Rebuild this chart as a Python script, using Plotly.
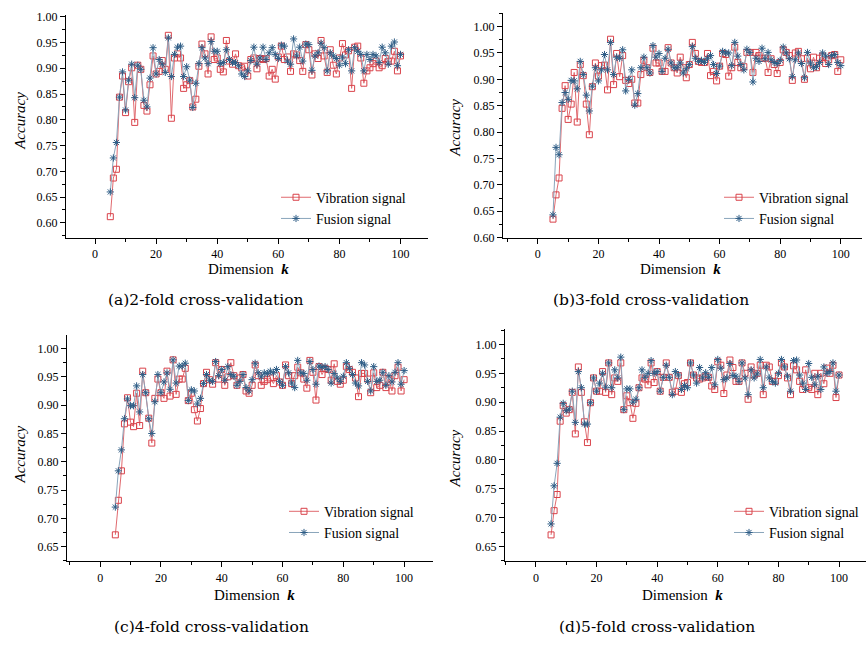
import plotly.graph_objects as go

k = list(range(5, 101))

a_vib = [0.612,0.687,0.704,0.844,0.885,0.814,0.874,0.901,0.795,0.906,0.898,0.828,0.817,0.868,0.924,0.889,
         0.894,0.915,0.898,0.964,0.803,0.920,0.928,0.920,0.861,0.868,0.876,0.825,0.840,0.904,0.947,0.928,
         0.889,0.961,0.917,0.920,0.898,0.893,0.954,0.914,0.908,0.928,0.905,0.901,0.904,0.885,0.917,0.920,
         0.899,0.919,0.917,0.919,0.885,0.898,0.879,0.922,0.943,0.917,0.922,0.894,0.928,0.926,0.915,0.894,
         0.946,0.936,0.887,0.928,0.919,0.954,0.924,0.892,0.936,0.906,0.889,0.920,0.948,0.926,0.934,0.861,
         0.941,0.943,0.920,0.871,0.895,0.901,0.909,0.914,0.901,0.905,0.919,0.913,0.914,0.933,0.895,0.924]
a_fus = [0.660,0.726,0.756,0.844,0.893,0.819,0.877,0.908,0.843,0.906,0.898,0.838,0.825,0.881,0.940,0.889,
         0.917,0.908,0.892,0.959,0.884,0.927,0.941,0.943,0.884,0.903,0.877,0.824,0.871,0.909,0.940,0.920,
         0.909,0.952,0.933,0.933,0.909,0.911,0.936,0.917,0.911,0.911,0.905,0.889,0.884,0.895,0.915,0.941,
         0.908,0.920,0.941,0.917,0.930,0.940,0.927,0.919,0.945,0.943,0.914,0.908,0.957,0.924,0.941,0.914,
         0.947,0.946,0.896,0.924,0.930,0.949,0.940,0.895,0.930,0.924,0.919,0.906,0.922,0.909,0.936,0.895,
         0.940,0.933,0.927,0.895,0.927,0.917,0.927,0.924,0.911,0.941,0.930,0.908,0.943,0.951,0.905,0.927]

b_vib = [0.635,0.681,0.713,0.845,0.888,0.824,0.853,0.913,0.819,0.928,0.907,0.853,0.795,0.886,0.931,0.906,
         0.926,0.927,0.880,0.976,0.890,0.949,0.905,0.945,0.898,0.892,0.900,0.855,0.855,0.909,0.936,0.922,
         0.913,0.959,0.931,0.931,0.915,0.915,0.960,0.931,0.922,0.912,0.942,0.922,0.903,0.928,0.970,0.949,
         0.934,0.932,0.932,0.949,0.907,0.915,0.897,0.925,0.949,0.947,0.906,0.922,0.961,0.932,0.922,0.924,
         0.951,0.951,0.913,0.951,0.945,0.940,0.940,0.913,0.939,0.928,0.911,0.932,0.956,0.951,0.945,0.898,
         0.950,0.953,0.939,0.900,0.940,0.920,0.942,0.922,0.940,0.944,0.930,0.937,0.945,0.947,0.915,0.937]
b_fus = [0.643,0.771,0.757,0.856,0.875,0.862,0.898,0.897,0.882,0.934,0.909,0.870,0.840,0.887,0.922,0.897,
         0.918,0.947,0.918,0.970,0.909,0.942,0.940,0.956,0.878,0.900,0.918,0.851,0.873,0.922,0.942,0.922,
         0.912,0.964,0.942,0.949,0.915,0.940,0.957,0.931,0.922,0.922,0.931,0.912,0.920,0.928,0.962,0.940,
         0.934,0.936,0.932,0.940,0.945,0.928,0.911,0.925,0.953,0.950,0.950,0.926,0.970,0.944,0.928,0.918,
         0.957,0.951,0.895,0.940,0.934,0.959,0.939,0.951,0.937,0.932,0.930,0.936,0.961,0.950,0.939,0.905,
         0.937,0.950,0.930,0.903,0.951,0.931,0.922,0.924,0.932,0.950,0.944,0.928,0.945,0.947,0.932,0.926]

c_vib = [0.671,0.732,0.784,0.867,0.913,0.870,0.862,0.921,0.864,0.960,0.922,0.877,0.833,0.912,0.946,0.922,
         0.912,0.960,0.916,0.980,0.919,0.946,0.946,0.965,0.908,0.921,0.892,0.872,0.894,0.938,0.958,0.945,
         0.937,0.975,0.946,0.963,0.935,0.950,0.975,0.952,0.935,0.948,0.954,0.925,0.921,0.935,0.971,0.952,
         0.935,0.942,0.945,0.948,0.938,0.952,0.941,0.935,0.971,0.952,0.938,0.952,0.967,0.957,0.946,0.930,
         0.979,0.958,0.909,0.968,0.954,0.965,0.963,0.944,0.973,0.942,0.937,0.944,0.968,0.963,0.958,0.948,
         0.915,0.956,0.956,0.946,0.922,0.957,0.931,0.935,0.958,0.931,0.946,0.925,0.952,0.967,0.925,0.945]
c_fus = [0.720,0.784,0.821,0.876,0.911,0.899,0.899,0.934,0.888,0.954,0.922,0.876,0.850,0.906,0.954,0.922,
         0.941,0.957,0.928,0.980,0.939,0.969,0.969,0.974,0.908,0.927,0.925,0.902,0.912,0.938,0.954,0.944,
         0.942,0.977,0.952,0.963,0.944,0.968,0.954,0.951,0.935,0.942,0.954,0.931,0.925,0.945,0.974,0.957,
         0.950,0.957,0.956,0.960,0.957,0.963,0.942,0.935,0.968,0.957,0.939,0.931,0.979,0.957,0.956,0.944,
         0.977,0.963,0.937,0.969,0.967,0.968,0.963,0.939,0.956,0.948,0.942,0.951,0.975,0.965,0.954,0.939,
         0.934,0.975,0.971,0.942,0.925,0.968,0.942,0.944,0.958,0.935,0.952,0.941,0.958,0.975,0.937,0.961]

d_vib = [0.670,0.712,0.740,0.867,0.894,0.881,0.887,0.917,0.845,0.961,0.917,0.866,0.830,0.899,0.942,0.919,
         0.919,0.953,0.917,0.968,0.913,0.942,0.936,0.968,0.887,0.911,0.899,0.872,0.898,0.925,0.942,0.940,
         0.930,0.968,0.934,0.953,0.919,0.943,0.968,0.943,0.917,0.919,0.946,0.917,0.932,0.934,0.968,0.947,
         0.942,0.940,0.942,0.945,0.943,0.928,0.922,0.970,0.964,0.915,0.947,0.973,0.960,0.936,0.936,0.968,
         0.950,0.905,0.961,0.947,0.950,0.964,0.913,0.964,0.961,0.936,0.936,0.946,0.968,0.961,0.942,0.913,
         0.963,0.956,0.936,0.922,0.956,0.925,0.922,0.950,0.913,0.950,0.932,0.959,0.950,0.964,0.908,0.947]
d_fus = [0.689,0.755,0.794,0.874,0.898,0.885,0.888,0.919,0.865,0.953,0.925,0.862,0.862,0.899,0.942,0.919,
         0.933,0.950,0.926,0.968,0.925,0.956,0.942,0.978,0.887,0.923,0.923,0.900,0.905,0.925,0.956,0.943,
         0.950,0.972,0.950,0.953,0.919,0.943,0.964,0.943,0.913,0.953,0.947,0.922,0.929,0.925,0.968,0.947,
         0.933,0.960,0.942,0.951,0.943,0.960,0.930,0.974,0.959,0.939,0.942,0.967,0.946,0.945,0.936,0.968,
         0.942,0.913,0.956,0.942,0.949,0.974,0.925,0.961,0.942,0.936,0.933,0.950,0.974,0.961,0.945,0.919,
         0.972,0.973,0.947,0.933,0.922,0.967,0.943,0.930,0.945,0.922,0.961,0.950,0.953,0.968,0.919,0.947]

series_names = ["Vibration signal", "Fusion signal"]
captions = ["(a)2-fold cross-validation", "(b)3-fold cross-validation",
            "(c)4-fold cross-validation", "(d)5-fold cross-validation"]
x_ticks = [0, 20, 40, 60, 80, 100]

W, H = 868, 645
SERIF = "Liberation Serif"
CAPFONT = "DejaVu Serif"
RED = "#d9424a"
RED_LINE = "#e06a6f"
BLUE = "#2e5d86"
BLUE_LINE = "#8aa5bb"

# panel layout in pixels: (left, right, top, bottom), x range, y range, first y tick
panels = [
    dict(px=(66, 428, 10, 237), xr=(-9.5, 109), yr=(0.5714, 1.0038), y0=0.60, vib=a_vib, fus=a_fus),
    dict(px=(503, 862, 8, 237), xr=(-11.5, 107), yr=(0.600, 1.026), y0=0.60, vib=b_vib, fus=b_fus),
    dict(px=(67, 433, 336, 567), xr=(-10.9, 109.5), yr=(0.624, 1.0243), y0=0.65, vib=c_vib, fus=c_fus),
    dict(px=(505, 866, 330, 567), xr=(-10.2, 108.9), yr=(0.624, 1.027), y0=0.65, vib=d_vib, fus=d_fus),
]
legend_pos = [(276, 180), (719, 180), (284, 500), (729, 500)]
ytitle_pos = [(20, 118), (455, 125), (20, 458), (455, 462)]
xtitle_pos = [(248, 269), (680, 269), (254, 601), (682, 601)]
cap_pos = [(205, 301), (651, 301), (211, 634), (657, 634)]

fig = go.Figure()
layout = dict(width=W, height=H, margin=dict(l=0, r=0, t=0, b=0),
              paper_bgcolor="white", plot_bgcolor="white",
              font=dict(family=SERIF, size=12, color="black"), annotations=[])

for i, p in enumerate(panels):
    n = "" if i == 0 else str(i + 1)
    leg = "legend" if i == 0 else "legend" + str(i + 1)
    l, r, t, b = p["px"]
    fig.add_trace(go.Scatter(x=k, y=p["vib"], name=series_names[0], mode="lines+markers",
                             xaxis="x" + n, yaxis="y" + n, legend=leg,
                             line=dict(color=RED_LINE, width=1),
                             marker=dict(symbol="square-open", size=6, color=RED,
                                         line=dict(color=RED, width=1))))
    fig.add_trace(go.Scatter(x=k, y=p["fus"], name=series_names[1], mode="lines+markers",
                             xaxis="x" + n, yaxis="y" + n, legend=leg,
                             line=dict(color=BLUE_LINE, width=1),
                             marker=dict(symbol="asterisk-open", size=6, color=BLUE,
                                         line=dict(color=BLUE, width=1))))
    axcommon = dict(showline=True, linecolor="black", linewidth=1, showgrid=False, zeroline=False,
                    ticks="outside", ticklen=5, tickcolor="black", tickwidth=1,
                    tickfont=dict(family=SERIF, size=12))
    layout["xaxis" + n] = dict(axcommon, domain=[l / W, r / W], range=list(p["xr"]),
                               anchor="y" + n, tickvals=x_ticks,
                               minor=dict(dtick=10, tick0=0, ticks="outside", ticklen=3,
                                          tickcolor="black"))
    layout["yaxis" + n] = dict(axcommon, domain=[1 - b / H, 1 - t / H], range=list(p["yr"]),
                               anchor="x" + n, tick0=p["y0"], dtick=0.05, tickformat=".2f",
                               minor=dict(dtick=0.025, tick0=p["y0"], ticks="outside", ticklen=3,
                                          tickcolor="black"))
    lx, ly = legend_pos[i]
    layout[leg] = dict(x=lx / W, y=1 - ly / H, xanchor="left", yanchor="top",
                       bgcolor="rgba(0,0,0,0)", font=dict(family=SERIF, size=14),
                       itemwidth=30, tracegroupgap=0)
    yx, yy = ytitle_pos[i]
    layout["annotations"].append(dict(text="<i>Accuracy</i>", x=yx / W, y=1 - yy / H,
                                      xref="paper", yref="paper", xanchor="center",
                                      yanchor="middle", showarrow=False, textangle=-90,
                                      font=dict(family=SERIF, size=15)))
    xx, xy = xtitle_pos[i]
    layout["annotations"].append(dict(text="Dimension  <i><b>k</b></i>", x=xx / W, y=1 - xy / H,
                                      xref="paper", yref="paper", xanchor="center",
                                      yanchor="middle", showarrow=False,
                                      font=dict(family=SERIF, size=15)))
    cx, cy = cap_pos[i]
    layout["annotations"].append(dict(text=captions[i], x=cx / W, y=1 - cy / H,
                                      xref="paper", yref="paper", xanchor="center",
                                      yanchor="middle", showarrow=False,
                                      font=dict(family=CAPFONT, size=15.5)))

fig.update_layout(**layout)
fig.write_html("out.html", config={"displayModeBar": False},
               post_script="document.body.style.margin='0';document.body.style.padding='0';")
